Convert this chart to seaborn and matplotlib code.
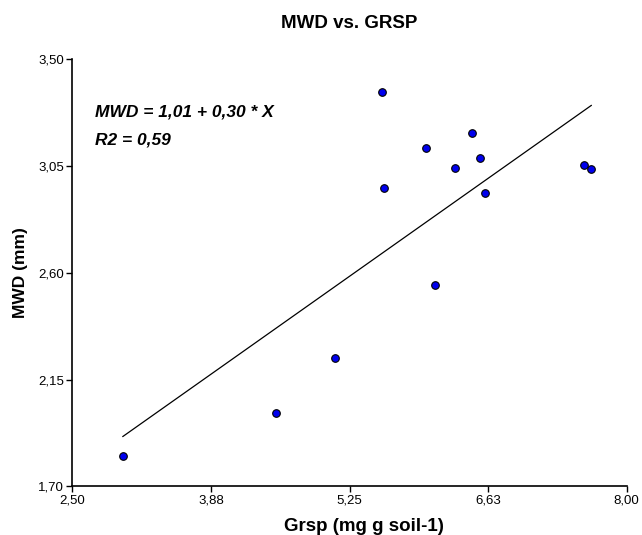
import numpy as np
import pandas as pd
import matplotlib
matplotlib.use("Agg")
import matplotlib.pyplot as plt
import seaborn as sns

# ── data ──────────────────────────────────────────────────────────────────────
grsp = [3.00, 4.52, 5.11, 6.10, 5.57, 5.59, 6.01, 6.30, 6.47, 6.54, 6.59, 7.58, 7.65]
mwd  = [1.83, 2.01, 2.24, 2.55, 3.36, 2.955, 3.126, 3.043, 3.188, 3.082, 2.937, 3.053, 3.037]

intercept = 1.01
slope     = 0.30

x_ticks  = [2.50, 3.875, 5.25, 6.625, 8.00]
x_labels = ["2,50", "3,88", "5,25", "6,63", "8,00"]
y_ticks  = [1.70, 2.15, 2.60, 3.05, 3.50]
y_labels = ["1,70", "2,15", "2,60", "3,05", "3,50"]

# ── plot ──────────────────────────────────────────────────────────────────────
sns.set_style("ticks")
plt.rcParams["font.family"] = ["Liberation Sans", "DejaVu Sans"]
plt.rcParams["text.color"] = "black"
plt.rcParams["axes.labelcolor"] = "black"
plt.rcParams["xtick.color"] = "black"
plt.rcParams["ytick.color"] = "black"

df = pd.DataFrame({"grsp": grsp, "mwd": mwd})
fit_x = np.array([min(grsp), max(grsp)])
fit = pd.DataFrame({"grsp": fit_x, "mwd": intercept + slope * fit_x})

fig = plt.figure(figsize=(6.42, 5.35), dpi=100)
ax = fig.add_axes([0.1126, 0.0907, 0.8636, 0.799])

sns.lineplot(data=fit, x="grsp", y="mwd", ax=ax, color="black", lw=0.9)
sns.scatterplot(data=df, x="grsp", y="mwd", ax=ax, color="#0000ee",
                edgecolor="black", linewidth=0.8, s=30, zorder=3)

ax.set_xlim(2.5, 8.0)
ax.set_ylim(1.7, 3.5)
ax.set_xticks(x_ticks)
ax.set_xticklabels(x_labels)
ax.set_yticks(y_ticks)
ax.set_yticklabels(y_labels)
ax.tick_params(axis="both", labelsize=9.5, length=4, width=1, pad=2, direction="out")

for side in ["top", "right"]:
    ax.spines[side].set_visible(False)
for side in ["left", "bottom"]:
    ax.spines[side].set_linewidth(1.2)
    ax.spines[side].set_color("black")

ax.set_xlabel("Grsp (mg g soil-1)", fontsize=13.5, fontweight="bold")
ax.xaxis.label.set_va("center")
ax.xaxis.set_label_coords(0.526, -0.0947)
ax.set_ylabel("MWD (mm)", fontsize=12.5, fontweight="bold")
ax.yaxis.label.set_va("center")
ax.yaxis.set_label_coords(-0.0943, 0.5)

ax.text(0.5, 1.084, "MWD vs. GRSP", transform=ax.transAxes,
        fontsize=13.5, fontweight="bold", ha="center", va="center")

ax.text(0.041, 0.876, "MWD = 1,01 + 0,30 * X", transform=ax.transAxes,
        fontsize=12.5, fontweight="bold", style="italic", va="center")
ax.text(0.041, 0.811, "R2 = 0,59", transform=ax.transAxes,
        fontsize=12.5, fontweight="bold", style="italic", va="center")

fig.savefig("out.png", dpi=100)
